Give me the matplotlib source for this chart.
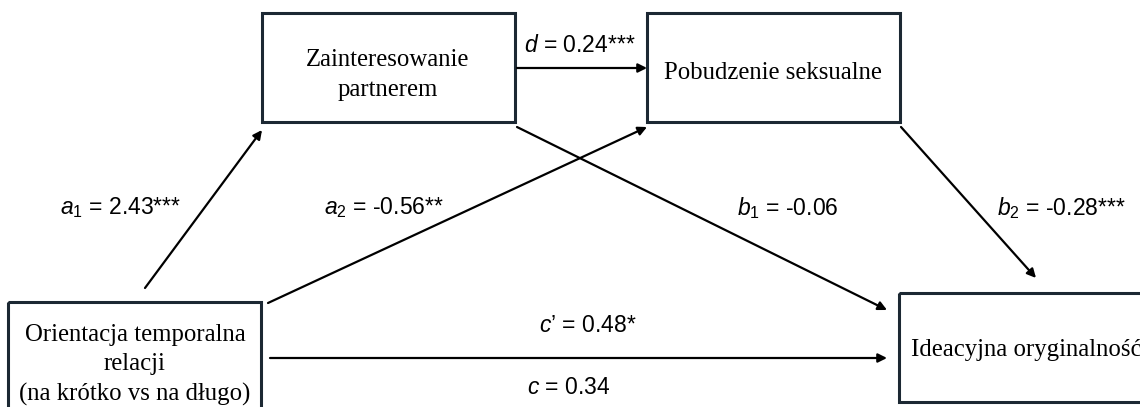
import matplotlib
matplotlib.use("Agg")
import matplotlib.pyplot as plt
from matplotlib.patches import Rectangle

plt.rcParams["mathtext.fontset"] = "custom"
plt.rcParams["mathtext.rm"] = "Liberation Sans"
plt.rcParams["mathtext.it"] = "Liberation Sans:italic"

# variables in the mediation model
node_names = ["X", "M1", "M2", "Y"]
node_labels = [
    "Orientacja temporalna\nrelacji\n(na krótko vs na długo)",
    "Zainteresowanie\npartnerem",
    "Pobudzenie seksualne",
    "Ideacyjna oryginalność",
]

# paths: source, target, coefficient symbol, subscript, value, stars
path_from = ["X", "X", "M1", "M1", "M2", "X"]
path_to = ["M1", "M2", "M2", "Y", "Y", "Y"]
path_sym = ["a", "a", "d", "b", "b", "c’"]
path_sub = ["1", "2", "", "1", "2", ""]
path_val = ["2.43", "-0.56", "0.24", "-0.06", "-0.28", "0.48"]
path_sig = ["***", "**", "***", "", "***", "*"]

# total effect
total_sym = "c"
total_val = "0.34"

# layout (pixel space, y down)
W, H = 1140, 407
box_w, box_h = 253, 109
box_xy = {"X": (8, 302), "M1": (262, 13), "M2": (647, 13), "Y": (899, 293)}
arrow_pts = {
    ("X", "M1"): ((145, 288), (262, 130)),
    ("X", "M2"): ((268, 303), (647, 127)),
    ("M1", "M2"): ((517, 68), (647, 68)),
    ("M1", "Y"): ((517, 127), (887, 310)),
    ("M2", "Y"): ((901, 127), (1036, 278)),
    ("X", "Y"): ((270, 358), (887, 358)),
}
label_pos = {
    ("X", "M1"): (121, 208),
    ("X", "M2"): (384, 208),
    ("M1", "M2"): (580, 45),
    ("M1", "Y"): (788, 208),
    ("M2", "Y"): (1061, 208),
    ("X", "Y"): (588, 326),
}
total_pos = (569, 388)
text_pos = {"X": (135, 365), "M1": (388, 75), "M2": (773, 73), "Y": (1026, 350)}

edge_col = "#1c2833"

fig = plt.figure(figsize=(11.4, 4.07), dpi=100)
ax = fig.add_axes([0, 0, 1, 1])
ax.set_xlim(0, W)
ax.set_ylim(H, 0)
ax.axis("off")

for name, label in zip(node_names, node_labels):
    x0, y0 = box_xy[name]
    ax.add_patch(Rectangle((x0, y0), box_w, box_h, fill=False,
                           edgecolor=edge_col, lw=2.2, clip_on=False))
    tx, ty = text_pos[name]
    ax.text(tx, ty, label, ha="center", va="center",
            family="Liberation Serif", fontsize=17.8, linespacing=1.45)


def coef_text(sym, sub, val, sig):
    if sym.endswith("’"):
        lhs = r"$\mathit{c}$’"
    elif sub:
        lhs = r"$\mathit{%s}_{\mathit{%s}}$" % (sym, sub)
    else:
        lhs = r"$\mathit{%s}$" % sym
    return lhs + " = " + val + sig


for src, dst, sym, sub, val, sig in zip(path_from, path_to, path_sym,
                                        path_sub, path_val, path_sig):
    p0, p1 = arrow_pts[(src, dst)]
    ax.annotate("", xy=p1, xytext=p0,
                arrowprops=dict(arrowstyle="-|>", color="black", lw=1.6,
                                mutation_scale=13, shrinkA=0, shrinkB=0))
    lx, ly = label_pos[(src, dst)]
    ax.text(lx, ly, coef_text(sym, sub, val, sig), ha="center", va="center",
            family="Liberation Sans", fontsize=16.5)

ax.text(total_pos[0], total_pos[1], coef_text(total_sym, "", total_val, ""),
        ha="center", va="center", family="Liberation Sans", fontsize=16.5)

fig.savefig("out.png", dpi=100)
